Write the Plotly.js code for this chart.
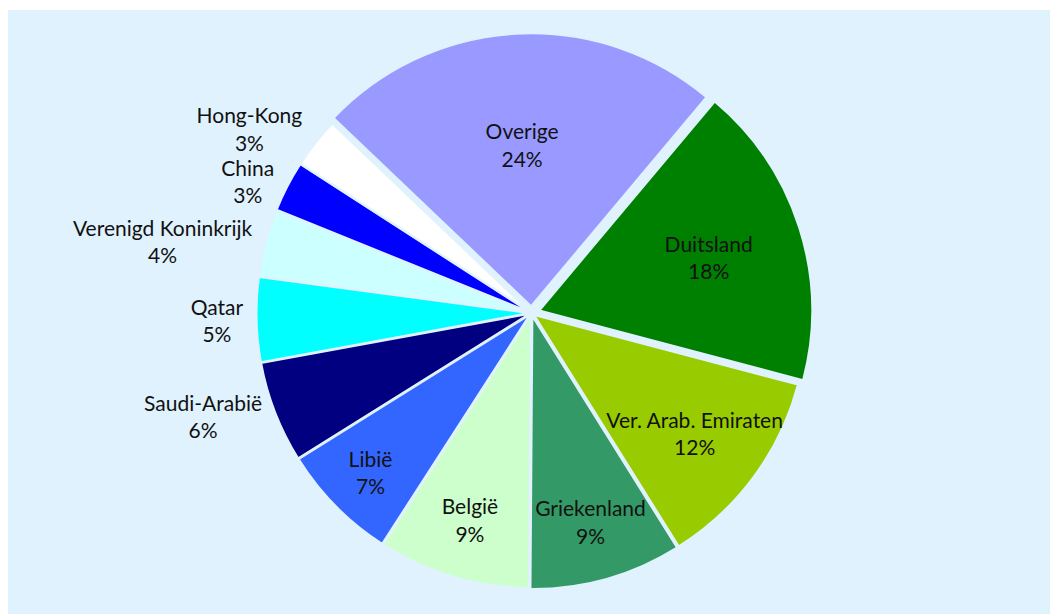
<!DOCTYPE html>
<html>
<head>
<meta charset="utf-8">
<script src="https://cdn.plot.ly/plotly-3.0.1.min.js"></script>
<style>
  html, body { margin: 0; padding: 0; background: #ffffff; }
  #chart { position: absolute; left: 8px; top: 10px; width: 1042px; height: 604px; }
  #chart path.textline { display: none; }
</style>
</head>
<body>
<div id="chart"></div>
<script>
const labels = ["Duitsland", "Ver. Arab. Emiraten", "Griekenland", "België", "Libië", "Saudi-Arabië", "Qatar", "Verenigd Koninkrijk", "China", "Hong-Kong", "Overige"];
const values = [18, 12, 9, 9, 7, 6, 5, 4, 3, 3, 24];
const colors = ["#008000", "#99CC00", "#339966", "#CCFFCC", "#3366FF", "#000080", "#00FFFF", "#CCFFFF", "#0000FF", "#FFFFFF", "#9999FF"];
const positions = ["inside", "inside", "inside", "inside", "inside", "outside", "outside", "outside", "outside", "outside", "inside"];
const pulls = [0.03, 0.012, 0.012, 0.008, 0.008, 0.008, 0.008, 0.008, 0.008, 0.008, 0.025];
const bg = "#E0F2FD";
const fontFamily = "Lato, 'Open Sans', sans-serif";

const trace = {
  type: "pie",
  labels: labels,
  values: values,
  sort: false,
  direction: "clockwise",
  rotation: 40,
  marker: { colors: colors, line: { color: bg, width: 2 } },
  pull: pulls,
  textposition: positions,
  textinfo: "label+percent",
  texttemplate: "%{label}<br>%{percent:.0%}",
  insidetextorientation: "horizontal",
  textfont: { family: fontFamily, size: 21, color: "#111111" },
  insidetextfont: { family: fontFamily, size: 21, color: "#111111" },
  outsidetextfont: { family: fontFamily, size: 21, color: "#111111" },
  hoverinfo: "label+percent",
  showlegend: false
};

const layout = {
  width: 1042,
  height: 604,
  paper_bgcolor: bg,
  plot_bgcolor: bg,
  margin: { l: 5, r: 0, t: 22, b: 20 },
  uniformtext: { mode: "show", minsize: 21 },
  showlegend: false
};

Plotly.newPlot("chart", [trace], layout, { displayModeBar: false, staticPlot: true });
</script>
</body>
</html>
